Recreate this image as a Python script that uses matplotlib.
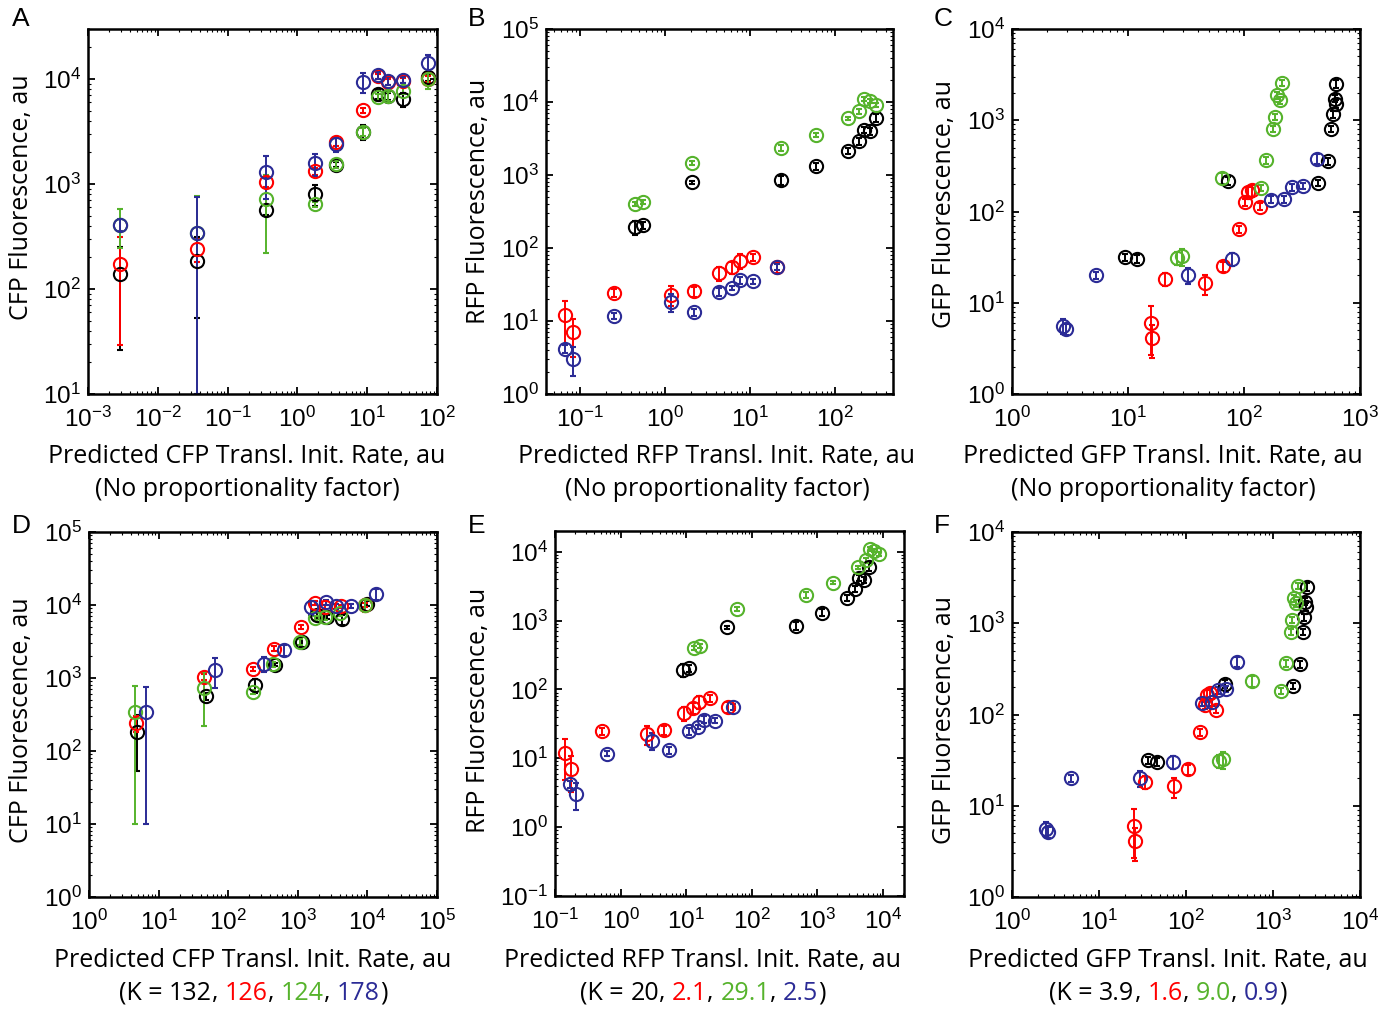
import numpy as np
import matplotlib
matplotlib.use('Agg')
import matplotlib.pyplot as plt
from matplotlib.ticker import LogLocator, NullFormatter

plt.rcParams['font.family'] = 'Liberation Sans'
plt.rcParams['mathtext.fontset'] = 'custom'
plt.rcParams['mathtext.rm'] = 'Liberation Sans'
plt.rcParams['mathtext.it'] = 'Liberation Sans:italic'
plt.rcParams['mathtext.default'] = 'regular'

LABEL_FONT = 'Open Sans'

# ---- CFP (panels A, D) ----
cfp_x = [0.0029, 0.037, 0.36, 1.81, 3.56, 8.7, 14.2, 19.8, 33, 74]
cfp_k_y = [139, 183, 565, 798, 1530, 3150, 7200, 6840, 6400, 10370]
cfp_k_e = [113, 130, 60, 180, 80, 500, 700, 500, 1000, 800]
cfp_r_y = [172, 240, 1038, 1330, 2529, 5040, 10700, 9360, 9640, 10000]
cfp_r_e = [143, 60, 100, 100, 200, 300, 600, 600, 500, 600]
cfp_g_y = [410, 340, 719, 640, 1538, 3150, 6680, 6860, 7740, 9930]
cfp_g_e = [165, 430, 500, 40, 120, 300, 500, 700, 600, 1800]
cfp_b_y = [410, 339, 1291, 1574, 2404, 9360, 10830, 9640, 9780, 14300]
cfp_b_e = [50, 420, 570, 380, 400, 2000, 800, 800, 600, 2500]
cfp_K = [132, 126, 124, 178]

# ---- RFP (panels B, E) ----
rfp_x_kg = [0.448, 0.553, 2.08, 23.3, 60, 143, 190, 217, 256, 303]
rfp_x_rb = [0.067, 0.083, 0.248, 1.19, 2.2, 4.35, 6.07, 7.55, 10.9, 20.6]
rfp_k_y = [193, 205, 798, 841, 1309, 2148, 2884, 4125, 3950, 6085]
rfp_k_e = [40, 25, 40, 120, 150, 200, 300, 400, 400, 800]
rfp_r_y = [11.9, 7.0, 24.5, 22.8, 25.6, 45, 54.5, 66.6, 74.8, 55]
rfp_r_e = [7, 3.8, 3, 7, 4, 10, 10, 15, 8, 10]
rfp_g_y = [403, 429, 1455, 2360, 3560, 5960, 7510, 11100, 10400, 9180]
rfp_g_e = [30, 30, 100, 250, 200, 300, 600, 700, 600, 600]
rfp_b_y = [4.19, 3.05, 11.7, 18.1, 13.2, 25, 28.4, 36.5, 35.1, 55.7]
rfp_b_e = [0.5, 1.3, 1, 5, 1.5, 3, 2, 4, 3, 5]
rfp_K = [20, 2.1, 29.1, 2.5]

# ---- GFP (panels C, F) ----
gfp_k_x = [9.48, 11.96, 72.3, 437, 530, 566, 585, 605, 615, 625]
gfp_k_y = [31.4, 30.1, 216, 204, 355, 797, 1164, 1729, 1524, 2505]
gfp_k_e = [3, 3, 20, 15, 30, 60, 100, 150, 150, 250]
gfp_r_x = [15.9, 16.2, 21, 45.8, 65.5, 90.6, 103, 109, 118, 137]
gfp_r_y = [6.0, 4.1, 18.2, 16.3, 25, 63.7, 126, 165, 171, 113]
gfp_r_e = [3.3, 1.6, 3, 4, 3, 6, 10, 20, 25, 10]
gfp_g_x = [26.4, 29.2, 64.2, 139, 155, 178, 186, 194, 206, 214]
gfp_g_y = [30.9, 32.2, 231, 181, 364, 797, 1079, 1879, 1656, 2588]
gfp_g_e = [5, 7, 30, 15, 30, 60, 80, 150, 130, 200]
gfp_b_x = [2.75, 2.9, 5.26, 32.9, 78.8, 170, 223, 261, 323, 426]
gfp_b_y = [5.6, 5.1, 20, 20, 30.1, 135, 137, 184, 190, 380]
gfp_b_e = [1.0, 0.7, 2, 4, 5, 12, 12, 15, 15, 50]
gfp_K = [3.9, 1.6, 9.0, 0.9]

COLS = ['black', '#ff0000', '#56b32c', '#2b2b96']

W, H = 1386, 1010
fig = plt.figure(figsize=(W / 100, H / 100), dpi=100)


def add_ax(l, r, t, b):
    return fig.add_axes([l / W, 1 - b / H, (r - l) / W, (b - t) / H])


def series(ax, x, y, e, c, floor=1e-9):
    x = np.asarray(x, float)
    y = np.asarray(y, float)
    e = np.asarray(e, float)
    lo = y - np.maximum(y - e, floor)
    ax.errorbar(x, y, yerr=[lo, e], fmt='o', mfc='none', mec=c, ecolor=c,
                ms=9.5, mew=1.5, elinewidth=1.4, capsize=2, capthick=1.3)


def style(ax, xlim, ylim):
    ax.set_xscale('log')
    ax.set_yscale('log')
    ax.set_xlim(*xlim)
    ax.set_ylim(*ylim)
    for a in (ax.xaxis, ax.yaxis):
        a.set_major_locator(LogLocator(base=10, numticks=20))
        a.set_minor_locator(LogLocator(base=10, subs=np.arange(2, 10), numticks=20))
        a.set_minor_formatter(NullFormatter())
    ax.tick_params(which='both', direction='in', top=True, right=True)
    ax.tick_params(which='major', length=5, width=1.3, labelsize=17.5)
    ax.tick_params(axis='x', which='major', pad=9)
    ax.tick_params(axis='y', which='major', pad=5)
    ax.tick_params(which='minor', length=2.5, width=0.8)
    for s in ax.spines.values():
        s.set_linewidth(1.8)


def xlabel(xc, y, text):
    fig.text(xc / W, 1 - y / H, text, ha='center', va='center',
             fontsize=18, family=LABEL_FONT)


def ylabel(xc, yc, text):
    fig.text(xc / W, 1 - yc / H, text, ha='center', va='center', rotation=90,
             fontsize=18, family=LABEL_FONT)


def klabel(xc, y, K):
    parts = [('(K = ', COLS[0])]
    for i, k in enumerate(K):
        parts.append((str(k), COLS[i]))
        parts.append((', ' if i < 3 else ')', COLS[0]))
    r = fig.canvas.get_renderer()
    texts, widths = [], []
    for s, c in parts:
        t = fig.text(0, 1 - y / H, s, ha='left', va='center', color=c,
                     fontsize=18, family=LABEL_FONT)
        texts.append(t)
        widths.append(t.get_window_extent(r).width)
    x0 = xc - sum(widths) / 2
    for t, w in zip(texts, widths):
        t.set_x(x0 / W)
        x0 += w


def letter(x, y, s):
    fig.text(x / W, 1 - y / H, s, ha='left', va='center', fontsize=19)


# A
axA = add_ax(88, 437, 29, 394)
for c, yy, ee in zip(COLS, [cfp_k_y, cfp_r_y, cfp_g_y, cfp_b_y],
                     [cfp_k_e, cfp_r_e, cfp_g_e, cfp_b_e]):
    series(axA, cfp_x, yy, ee, c, floor=10)
style(axA, (1e-3, 1e2), (10, 3e4))

# B
axB = add_ax(546, 893, 29, 394)
for c, xx, yy, ee in zip(COLS, [rfp_x_kg, rfp_x_rb, rfp_x_kg, rfp_x_rb],
                         [rfp_k_y, rfp_r_y, rfp_g_y, rfp_b_y],
                         [rfp_k_e, rfp_r_e, rfp_g_e, rfp_b_e]):
    series(axB, xx, yy, ee, c)
style(axB, (0.0398, 480), (1, 1e5))

# C
axC = add_ax(1012, 1360, 29, 394)
gfp_x = [gfp_k_x, gfp_r_x, gfp_g_x, gfp_b_x]
gfp_y = [gfp_k_y, gfp_r_y, gfp_g_y, gfp_b_y]
gfp_e = [gfp_k_e, gfp_r_e, gfp_g_e, gfp_b_e]
for c, xx, yy, ee in zip(COLS, gfp_x, gfp_y, gfp_e):
    series(axC, xx, yy, ee, c)
style(axC, (1, 1e3), (1, 1e4))

# D (x scaled by K)
axD = add_ax(89, 437, 532, 897)
for c, k, yy, ee in zip(COLS, cfp_K, [cfp_k_y, cfp_r_y, cfp_g_y, cfp_b_y],
                        [cfp_k_e, cfp_r_e, cfp_g_e, cfp_b_e]):
    series(axD, np.array(cfp_x) * k, yy, ee, c, floor=10)
style(axD, (1, 1e5), (1, 1e5))

# E
axE = add_ax(555, 904, 531, 896)
for c, k, xx, yy, ee in zip(COLS, rfp_K, [rfp_x_kg, rfp_x_rb, rfp_x_kg, rfp_x_rb],
                            [rfp_k_y, rfp_r_y, rfp_g_y, rfp_b_y],
                            [rfp_k_e, rfp_r_e, rfp_g_e, rfp_b_e]):
    series(axE, np.array(xx) * k, yy, ee, c)
style(axE, (0.1, 2.1e4), (0.1, 2e4))

# F
axF = add_ax(1012, 1360, 532, 897)
for c, k, xx, yy, ee in zip(COLS, gfp_K, gfp_x, gfp_y, gfp_e):
    series(axF, np.array(xx) * k, yy, ee, c)
style(axF, (1, 1e4), (1, 1e4))

# labels
letter(12, 19, 'A')
letter(468, 19, 'B')
letter(934, 19, 'C')
letter(12, 526, 'D')
letter(468, 526, 'E')
letter(934, 526, 'F')

ylabel(22, 197, 'CFP Fluorescence, au')
ylabel(478, 201, 'RFP Fluorescence, au')
ylabel(945, 204, 'GFP Fluorescence, au')
ylabel(22, 720, 'CFP Fluorescence, au')
ylabel(478, 710, 'RFP Fluorescence, au')
ylabel(945, 720, 'GFP Fluorescence, au')

xlabel(247, 456, 'Predicted CFP Transl. Init. Rate, au')
xlabel(717, 456, 'Predicted RFP Transl. Init. Rate, au')
xlabel(1163, 456, 'Predicted GFP Transl. Init. Rate, au')
xlabel(247, 490, '(No proportionality factor)')
xlabel(717, 490, '(No proportionality factor)')
xlabel(1163, 490, '(No proportionality factor)')

xlabel(253, 960, 'Predicted CFP Transl. Init. Rate, au')
xlabel(703, 960, 'Predicted RFP Transl. Init. Rate, au')
xlabel(1168, 960, 'Predicted GFP Transl. Init. Rate, au')
klabel(253, 993, cfp_K)
klabel(703, 993, rfp_K)
klabel(1168, 993, gfp_K)

fig.savefig('out.png', dpi=100)
